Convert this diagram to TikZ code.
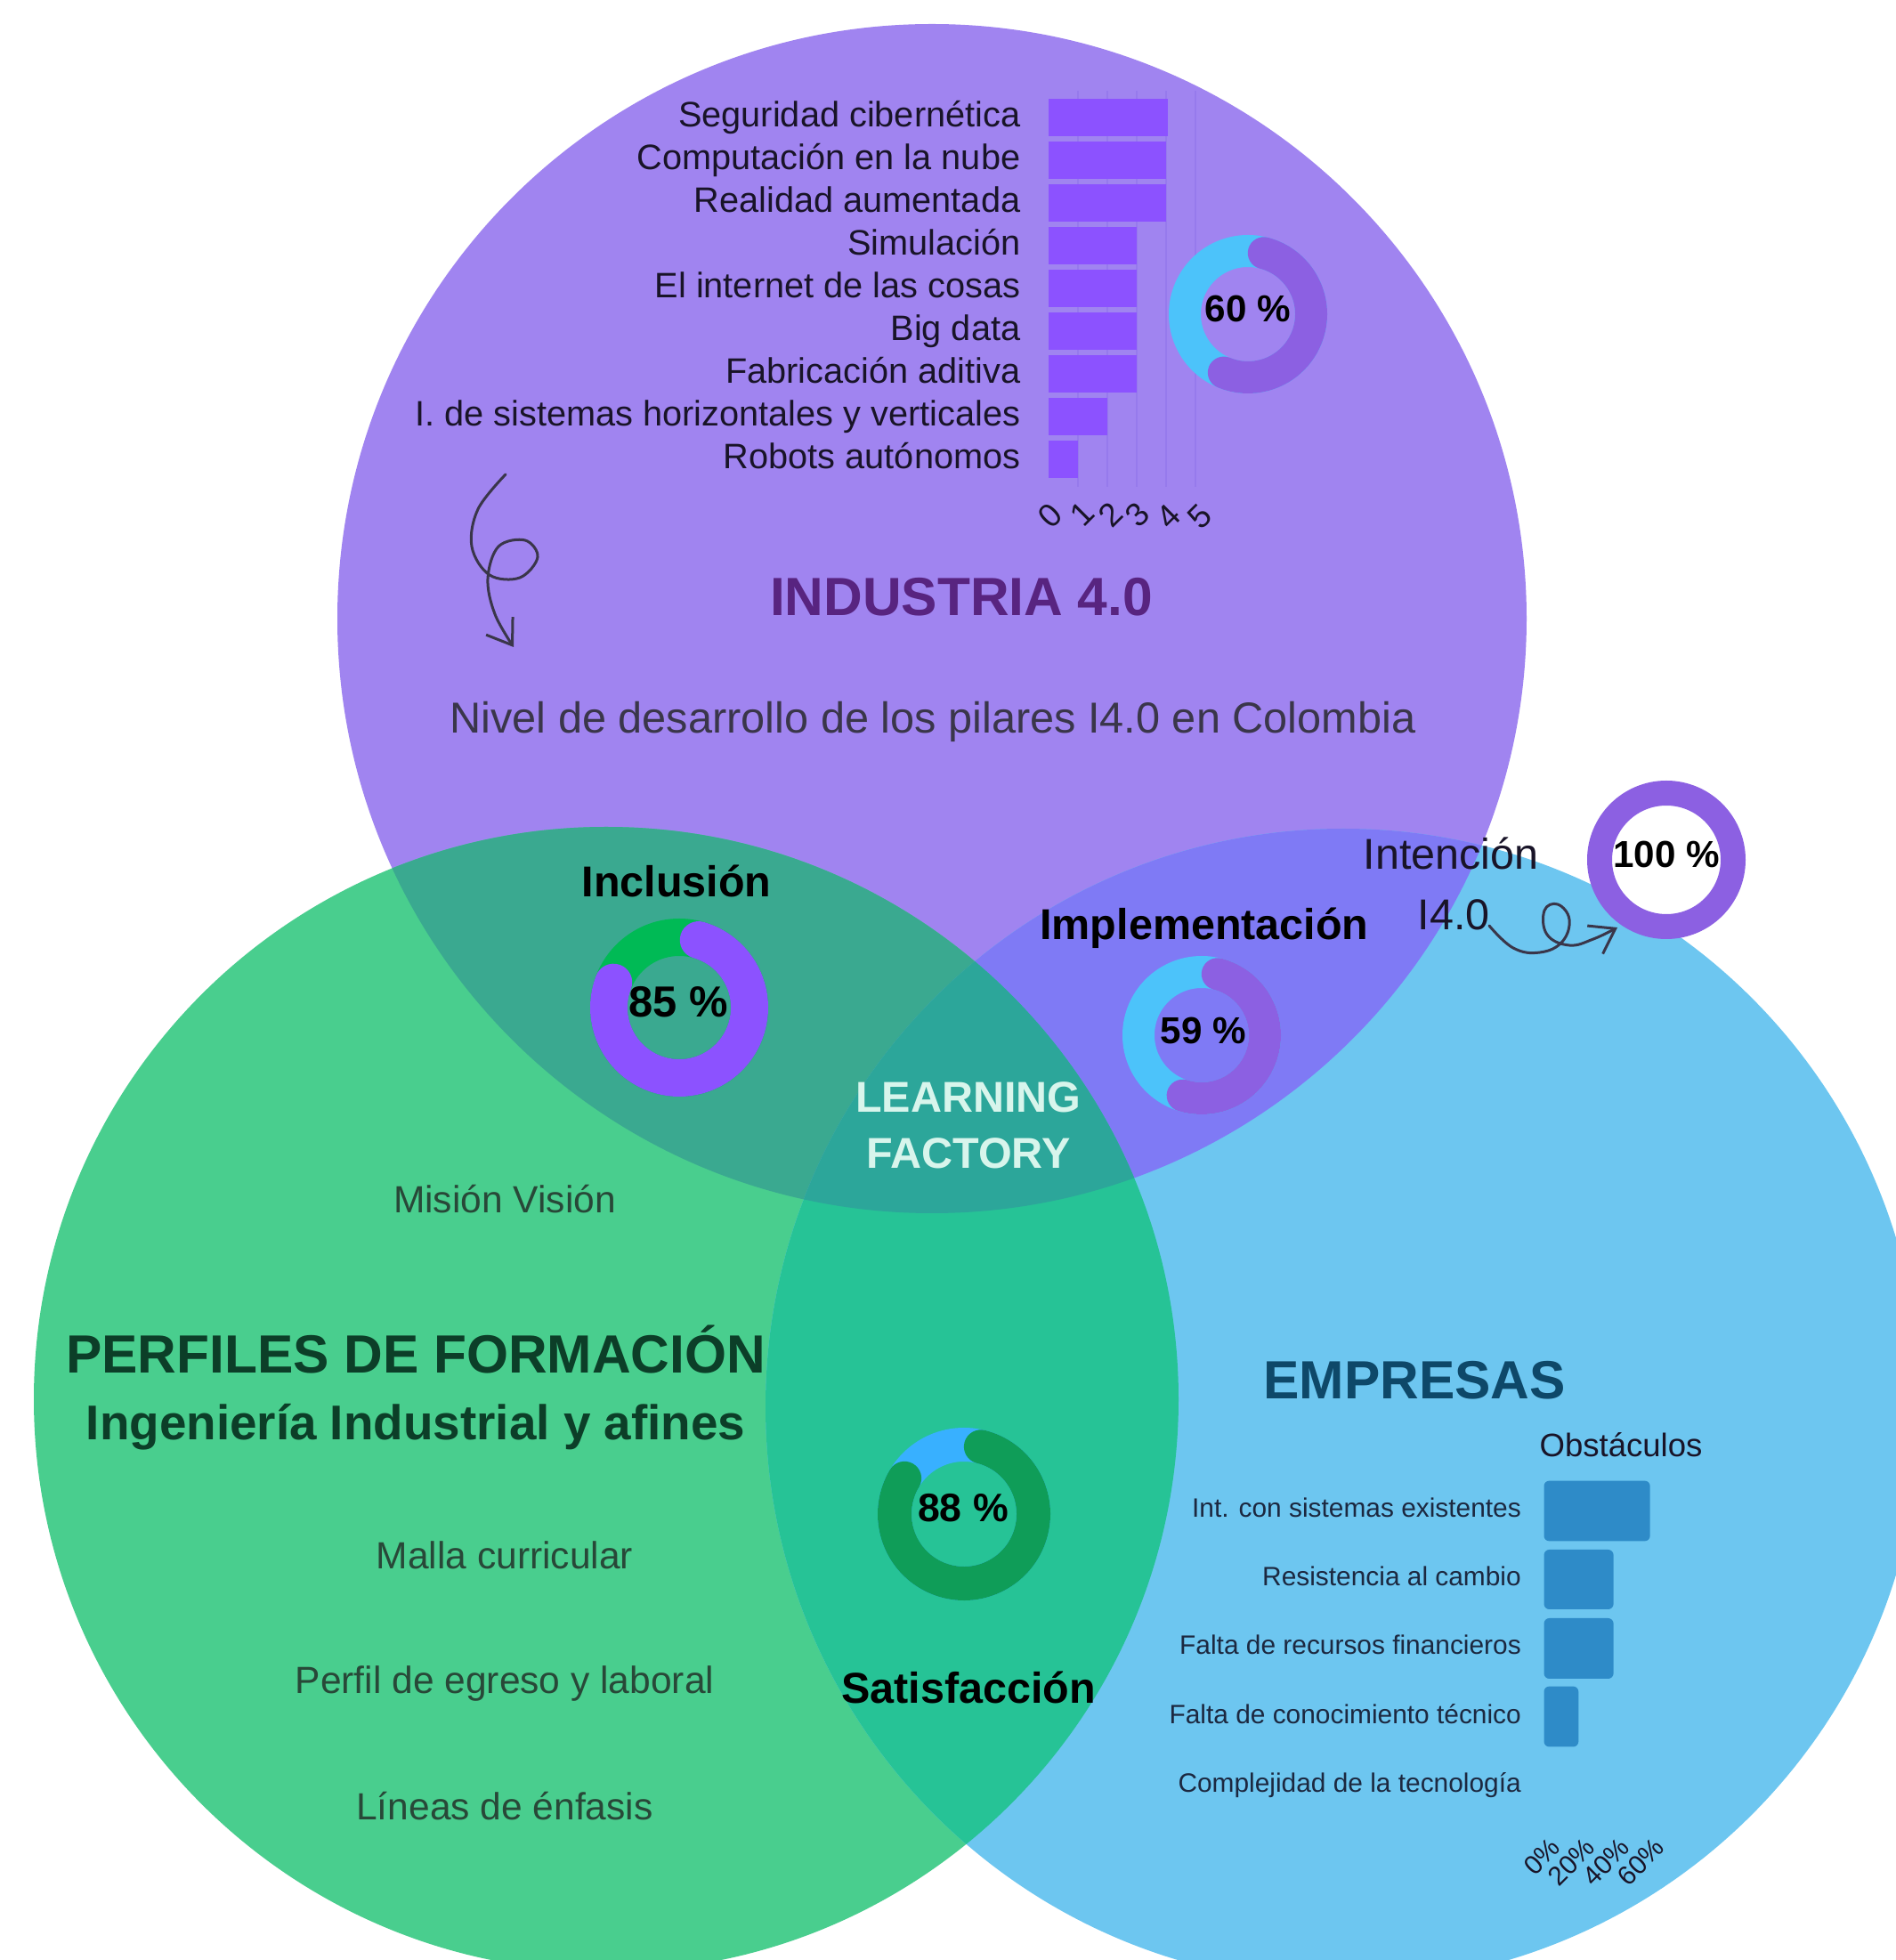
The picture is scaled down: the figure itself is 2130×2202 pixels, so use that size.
\documentclass[tikz,border=0pt]{standalone}
\usepackage{fontspec}
\setmainfont{Liberation Sans}
\usetikzlibrary{arrows.meta}

\definecolor{circpurple}{RGB}{160,132,240}
\definecolor{circgreen}{RGB}{73,206,142}
\definecolor{circblue}{RGB}{109,198,240}
\definecolor{mixpg}{RGB}{58,169,144}
\definecolor{mixpb}{RGB}{127,122,245}
\definecolor{mixgb}{RGB}{38,195,150}
\definecolor{mixall}{RGB}{44,166,154}
\definecolor{barpurple}{RGB}{140,82,255}
\definecolor{gridpurple}{RGB}{150,122,236}
\definecolor{barblue}{RGB}{46,139,200}
\definecolor{ringblue}{RGB}{76,195,250}
\definecolor{ringpurple}{RGB}{140,96,226}
\definecolor{ringviolet}{RGB}{140,82,255}
\definecolor{ringgreen}{RGB}{0,186,85}
\definecolor{ringdark}{RGB}{15,157,88}
\definecolor{ringsky}{RGB}{56,176,255}
\definecolor{inkpurple}{RGB}{88,36,128}
\definecolor{inkgreen}{RGB}{12,62,40}
\definecolor{inksoft}{RGB}{40,72,56}
\definecolor{inkblue}{RGB}{14,72,105}
\definecolor{inkgray}{RGB}{58,54,74}
\definecolor{inkmint}{RGB}{216,245,236}
\definecolor{inknavy}{RGB}{28,40,64}
\definecolor{inkdark}{RGB}{25,20,40}

\begin{document}
\begin{tikzpicture}[x=0.1mm,y=0.1mm,
  bartxt/.style={anchor=base east,inner sep=0,font=\fontsize{11.3}{13}\selectfont,text=inkdark},
  obstxt/.style={anchor=base east,inner sep=0,font=\fontsize{8.5}{10}\selectfont,text=inknavy},
  ticktxt/.style={inner sep=0,rotate=45,text=inkdark},
  pcttxt/.style={anchor=base,inner sep=0,font=\bfseries\fontsize{12}{14}\selectfont,text=black},
  headtxt/.style={anchor=base,inner sep=0,font=\bfseries\fontsize{13.8}{16}\selectfont,text=black},
  titletxt/.style={anchor=base,inner sep=0,font=\bfseries\fontsize{17.2}{20}\selectfont},
  softtxt/.style={anchor=base,inner sep=0,font=\fontsize{12.1}{14}\selectfont,text=inksoft},
  squiggle/.style={draw=inkgray,line width=0.3mm,line cap=round,-{Straight Barb[length=2.6mm,width=3.6mm]}},
  ]
\useasboundingbox (0,0) rectangle (2130,2202);
\fill[white] (0,0) rectangle (2130,2202);

% circles
\fill[circpurple] (1047,1507) circle[radius=668]; % industria
\fill[circgreen] (681,630) circle[radius=643]; % perfiles
\fill[circblue] (1509,622) circle[radius=649]; % empresas
\begin{scope}
\clip (1047,1507) circle[radius=668];
\fill[mixpg] (681,630) circle[radius=643];
\fill[mixpb] (1509,622) circle[radius=649];
\end{scope}
\begin{scope}
\clip (681,630) circle[radius=643];
\fill[mixgb] (1509,622) circle[radius=649];
\clip (1047,1507) circle[radius=668];
\fill[mixall] (1509,622) circle[radius=649]; % learning factory
\end{scope}

% pilares chart
\foreach \gx in {1211,1244,1277,1310,1343}
  \draw[gridpurple,line width=0.2mm] (\gx,1655) -- (\gx,2100);
\fill[barpurple] (1178,2048.7) rectangle (1312,2091.3);
\fill[barpurple] (1178,2000.7) rectangle (1310,2043.3);
\fill[barpurple] (1178,1952.7) rectangle (1310,1995.3);
\fill[barpurple] (1178,1904.7) rectangle (1277,1947.3);
\fill[barpurple] (1178,1856.7) rectangle (1277,1899.3);
\fill[barpurple] (1178,1808.7) rectangle (1277,1851.3);
\fill[barpurple] (1178,1760.7) rectangle (1277,1803.3);
\fill[barpurple] (1178,1712.7) rectangle (1244,1755.3);
\fill[barpurple] (1178,1664.7) rectangle (1211,1707.3);

\node[bartxt] (seguridad) at (1147,2059) {Seguridad cibernética};
\node[bartxt] (nube) at (1147,2011) {Computación en la nube};
\node[bartxt] (realidad) at (1147,1963) {Realidad aumentada};
\node[bartxt] (simulacion) at (1147,1915) {Simulación};
\node[bartxt] (iot) at (1147,1867) {El internet de las cosas};
\node[bartxt] (bigdata) at (1147,1819) {Big data};
\node[bartxt] (aditiva) at (1147,1771) {Fabricación aditiva};
\node[bartxt] (sistemas) at (1147,1723) {I. de sistemas horizontales y verticales};
\node[bartxt] (robots) at (1147,1675) {Robots autónomos};

\node[ticktxt,font=\fontsize{10.5}{12}\selectfont] (ax0) at (1180,1623) {0};
\node[ticktxt,font=\fontsize{10.5}{12}\selectfont] (ax1) at (1216,1625) {1};
\node[ticktxt,font=\fontsize{10.5}{12}\selectfont] (ax2) at (1248,1624) {2};
\node[ticktxt,font=\fontsize{10.5}{12}\selectfont] (ax3) at (1278,1624) {3};
\node[ticktxt,font=\fontsize{10.5}{12}\selectfont] (ax4) at (1313,1622) {4};
\node[ticktxt,font=\fontsize{10.5}{12}\selectfont] (ax5) at (1348,1622) {5};

% donut 60
\draw[ringblue,line width=3.6mm] (1402,1849) circle[radius=71];
\draw[ringpurple,line width=3.6mm,line cap=round] (1402,1849) ++(75.5:71) arc[start angle=75.5,end angle=-112.5,radius=71];
\node[pcttxt] (pct60) at (1402,1840) {60 \%};

\node[titletxt,text=inkpurple] (industria) at (1080,1510) {INDUSTRIA 4.0};
\node[anchor=base,inner sep=0,font=\fontsize{13.85}{16}\selectfont,text=inkgray] (nivel) at (1048,1378) {Nivel de desarrollo de los pilares I4.0 en Colombia};

\draw[squiggle] plot[smooth,tension=0.6] coordinates {(568,1669) (537,1630) (530,1588) (550,1556) (584,1553) (604,1576) (590,1595) (560,1588) (548,1552) (556,1512) (577,1475)};

% donut 85
\draw[ringgreen,line width=4.2mm] (763,1070) circle[radius=79];
\draw[ringviolet,line width=4.2mm,line cap=round] (763,1070) ++(74:79) arc[start angle=74,end angle=-201,radius=79];
\node[pcttxt,font=\bfseries\fontsize{13.9}{16}\selectfont] (pct85) at (762,1059) {85 \%};
\node[headtxt] (inclusion) at (760,1194) {Inclusión};

% donut 59
\draw[ringblue,line width=3.6mm] (1350,1039) circle[radius=71];
\draw[ringpurple,line width=3.6mm,line cap=round] (1350,1039) ++(75.5:71) arc[start angle=75.5,end angle=-107.5,radius=71];
\node[pcttxt] (pct59) at (1352,1029) {59 \%};
\node[headtxt] (implementacion) at (1353,1146) {Implementación};

% intencion
\node[anchor=base,inner sep=0,font=\fontsize{13.8}{16}\selectfont,text=inkdark] (intencion) at (1630,1225) {Intención};
\node[anchor=base,inner sep=0,font=\fontsize{13.8}{16}\selectfont,text=inkdark] (i40) at (1633,1157) {I4.0};
\fill[white] (1872,1236) circle[radius=75];
\draw[ringpurple,line width=2.8mm] (1872,1236) circle[radius=75];
\node[pcttxt] (pct100) at (1872,1227) {100 \%};
\draw[squiggle] plot[smooth,tension=0.7] coordinates {(1673,1162) (1700,1137) (1730,1132) (1755,1144) (1763,1169) (1750,1186) (1735,1179) (1738,1152) (1763,1140) (1790,1147) (1817,1160)};

% learning factory
\node[headtxt,text=inkmint] (learning) at (1088,952) {LEARNING};
\node[headtxt,text=inkmint] (factory) at (1088,889) {FACTORY};

% perfiles
\node[softtxt] (mision) at (567,839) {Misión Visión};
\node[titletxt,text=inkgreen] (perfiles) at (467,659) {PERFILES DE FORMACIÓN};
\node[anchor=base,inner sep=0,font=\bfseries\fontsize{15.6}{18}\selectfont,text=inkgreen] (ingenieria) at (467,584) {Ingeniería Industrial y afines};
\node[softtxt] (malla) at (567,439) {Malla curricular};
\node[softtxt] (egreso) at (567,299) {Perfil de egreso y laboral};
\node[softtxt] (enfasis) at (567,158) {Líneas de énfasis};

% donut 88
\draw[ringsky,line width=3.8mm] (1083,501) circle[radius=78];
\draw[ringdark,line width=3.8mm,line cap=round] (1083,501) ++(76:78) arc[start angle=76,end angle=-211,radius=78];
\node[pcttxt,font=\bfseries\fontsize{12.7}{15}\selectfont] (pct88) at (1082,492) {88 \%};
\node[headtxt] (satisfaccion) at (1088,288) {Satisfacción};

% empresas
\node[titletxt,text=inkblue] (empresas) at (1589,630) {EMPRESAS};
\node[anchor=base,inner sep=0,font=\fontsize{10.4}{12}\selectfont,text=inkdark] (obstaculos) at (1821,565) {Obstáculos};
\fill[barblue,rounded corners=0.6mm] (1734.5,470.6) rectangle (1853.7,538.4);
\fill[barblue,rounded corners=0.6mm] (1734.5,394) rectangle (1812.6,461);
\fill[barblue,rounded corners=0.6mm] (1734.5,316) rectangle (1812.6,384);
\fill[barblue,rounded corners=0.6mm] (1734.5,239.5) rectangle (1773.3,307.4);
\node[obstxt] (integracion) at (1709.5,497) {Int. con sistemas existentes};
\node[obstxt] (resistencia) at (1709.5,420) {Resistencia al cambio};
\node[obstxt] (recursos) at (1709.5,343) {Falta de recursos financieros};
\node[obstxt] (conocimiento) at (1709.5,265) {Falta de conocimiento técnico};
\node[obstxt] (complejidad) at (1709.5,188) {Complejidad de la tecnología};
\node[ticktxt,anchor=east,font=\fontsize{8.5}{10}\selectfont] (pc0) at (1748,132) {0\%};
\node[ticktxt,anchor=east,font=\fontsize{8.5}{10}\selectfont] (pc20) at (1787,132) {20\%};
\node[ticktxt,anchor=east,font=\fontsize{8.5}{10}\selectfont] (pc40) at (1826,132) {40\%};
\node[ticktxt,anchor=east,font=\fontsize{8.5}{10}\selectfont] (pc60) at (1865,132) {60\%};

\end{tikzpicture}
\end{document}
